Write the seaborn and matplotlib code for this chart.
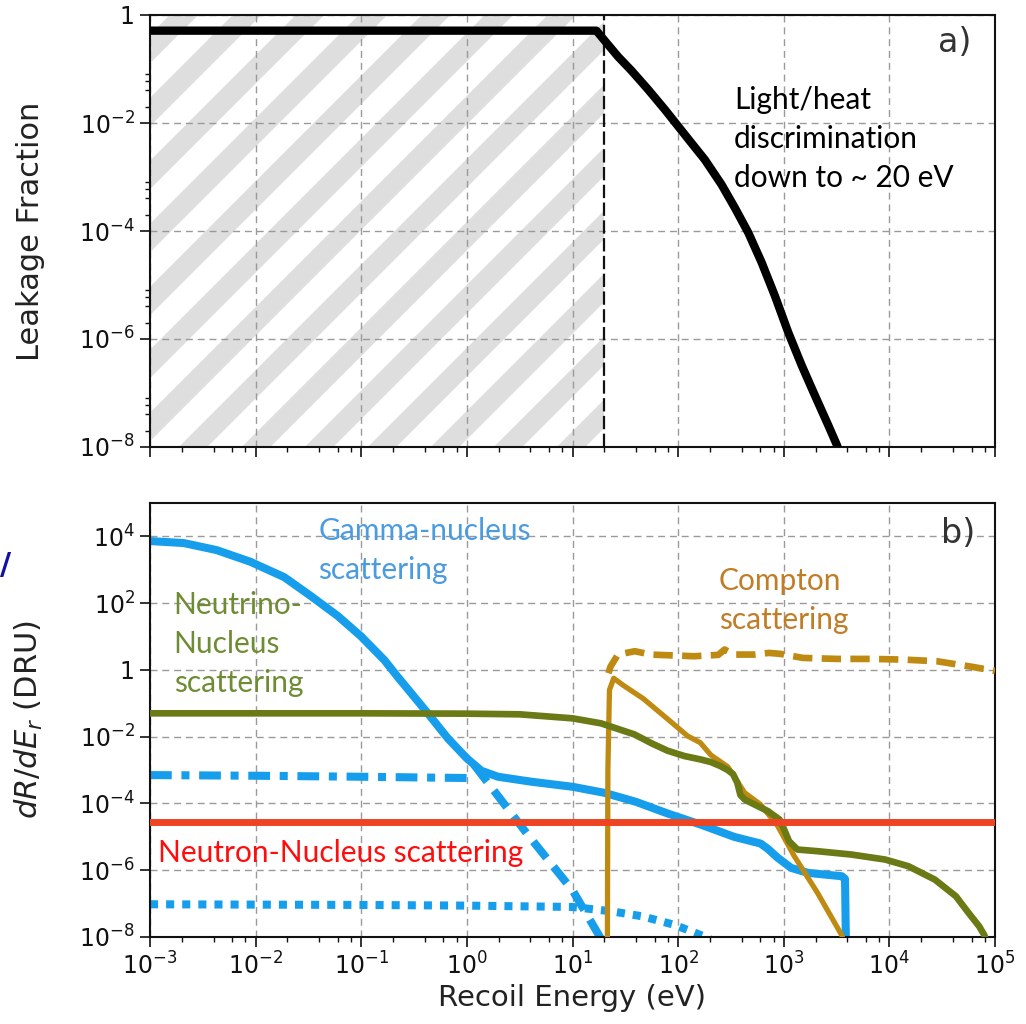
import numpy as np
import matplotlib
matplotlib.use("Agg")
import matplotlib.pyplot as plt
import matplotlib.ticker as mticker
import matplotlib.transforms as mtransforms
import seaborn as sns

# ---- panel a: leakage fraction ----
leak_logE = [-3, 1.226, 1.311, 1.431, 1.558, 1.716, 1.874, 2.0, 2.126, 2.253, 2.411,
             2.537, 2.664, 2.79, 2.916, 3.043, 3.17, 3.296, 3.422, 3.5, 3.53]
leak_logF = [-0.29, -0.29, -0.49, -0.77, -1.03, -1.38, -1.75, -2.06, -2.37, -2.68,
             -3.14, -3.57, -4.03, -4.58, -5.2, -5.88, -6.49, -7.05, -7.6, -7.95, -8.1]
threshold_eV = 20

# ---- panel b: dR/dE spectra, log10(E [eV]) and log10(rate [DRU]) ----
gamma_logE = [-3, -2.68, -2.37, -2.05, -1.73, -1.48, -1.22, -1.0, -0.78, -0.657,
              -0.37, -0.18, 0.0, 0.137, 0.295, 0.613, 1.0, 1.3, 1.6, 1.9, 2.22, 2.53,
              2.78, 2.85, 2.94, 3.07, 3.23, 3.55, 3.58, 3.59]
gamma_logR = [3.86, 3.80, 3.59, 3.24, 2.78, 2.22, 1.61, 1.0, 0.29, -0.2, -1.30,
              -2.05, -2.65, -3.02, -3.2, -3.35, -3.5, -3.68, -3.95, -4.3, -4.64, -5.0,
              -5.2, -5.36, -5.62, -5.93, -6.08, -6.18, -6.26, -8.5]

gamma_dash_logE = [0.07, 0.58, 1.0, 1.26, 1.3]
gamma_dash_logR = [-2.85, -4.95, -6.6, -8.0, -8.3]

gamma_dashdot_logE = [-3, -2, -1, 0.07]
gamma_dashdot_logR = [-3.15, -3.17, -3.2, -3.24]

gamma_dot_logE = [-3, -1, 0, 1, 1.37, 1.66, 1.97, 2.26, 2.35]
gamma_dot_logR = [-7.02, -7.04, -7.06, -7.1, -7.23, -7.38, -7.64, -8.0, -8.15]

nu_logE = [-3, -1, 0, 0.5, 1.0, 1.27, 1.585, 1.75, 1.9, 2.06, 2.21, 2.31, 2.40, 2.47,
           2.52, 2.56, 2.59, 2.63, 2.69, 2.85, 2.96, 3.0, 3.05, 3.13, 3.32, 3.64, 3.96,
           4.18, 4.43, 4.63, 4.75, 4.85, 4.9, 4.93]
nu_logR = [-1.30, -1.30, -1.31, -1.33, -1.45, -1.6, -1.93, -2.2, -2.42, -2.58, -2.68,
           -2.76, -2.88, -3.0, -3.12, -3.38, -3.75, -3.88, -3.98, -4.23, -4.48, -4.75,
           -5.13, -5.38, -5.43, -5.53, -5.68, -5.88, -6.28, -6.78, -7.28, -7.68, -7.95,
           -8.3]

compton_logE = [1.33, 1.335, 1.35, 1.39, 1.48, 1.67, 1.90, 2.09, 2.21, 2.31, 2.47,
                2.63, 2.78, 2.94, 3.10, 3.32, 3.55, 3.57]
compton_logR = [-8.5, -3.0, -0.6, -0.25, -0.46, -0.86, -1.47, -1.98, -2.18, -2.55,
                -2.9, -3.68, -4.03, -4.66, -5.58, -6.68, -7.95, -8.2]

compton_tot_logE = [1.34, 1.36, 1.43, 1.59, 1.74, 1.90, 2.15, 2.38, 2.44, 2.53, 2.72,
                    2.86, 2.97, 3.18, 3.5, 3.82, 4.13, 4.45, 4.77, 4.95, 5.0]
compton_tot_logR = [-0.1, 0.1, 0.46, 0.56, 0.46, 0.44, 0.41, 0.45, 0.61, 0.46, 0.46,
                    0.51, 0.48, 0.36, 0.33, 0.33, 0.31, 0.26, 0.10, 0.0, -0.03]

neutron_rate = 2.8e-5

C_BLUE = "#169eec"
C_OLIVE = "#6b7a15"
C_GOLD = "#bf8a12"
C_RED = "#ef4423"

sns.set_theme(style="white")
plt.rcParams["font.family"] = ["DejaVu Sans"]
plt.rcParams["mathtext.fontset"] = "dejavusans"

fig = plt.figure(figsize=(10.26, 10.24), dpi=100)
ax1 = fig.add_axes([150 / 1026, 1 - 447 / 1024, 845 / 1026, 432 / 1024])
ax2 = fig.add_axes([150 / 1026, 1 - 937 / 1024, 845 / 1026, 434 / 1024])


def ylabel_fmt(v, pos):
    k = int(round(np.log10(v)))
    return "1" if k == 0 else r"$10^{%d}$" % k


def pw(a):
    return np.power(10.0, a)


for ax in (ax1, ax2):
    ax.set_xscale("log")
    ax.set_yscale("log")
    ax.set_xlim(1e-3, 1e5)
    ax.xaxis.set_major_locator(mticker.FixedLocator(pw(np.arange(-3, 6))))
    ax.xaxis.set_minor_locator(mticker.LogLocator(base=10, subs=(2, 4, 6, 8), numticks=50))
    ax.xaxis.set_minor_formatter(mticker.NullFormatter())
    ax.yaxis.set_major_formatter(mticker.FuncFormatter(ylabel_fmt))
    ax.grid(True, which="major", color="#9a9a9a", lw=1.0, ls=(0, (5, 3.5)))
    ax.tick_params(which="major", direction="out", length=7, width=1.2,
                   labelsize=17, pad=4, left=True, bottom=True, colors="#111111")
    ax.tick_params(which="minor", direction="out", length=3.5, width=1.0,
                   left=True, bottom=True, colors="#111111")
    for s in ax.spines.values():
        s.set_linewidth(1.5)
        s.set_color("#111111")

# ---------------- panel a ----------------
ax1.set_ylim(1e-8, 1)
ax1.yaxis.set_major_locator(mticker.FixedLocator(pw(np.arange(-8, 1, 2))))
ax1.yaxis.set_minor_locator(mticker.LogLocator(base=100, subs=(2, 4, 6, 8), numticks=50))
ax1.yaxis.set_minor_formatter(mticker.NullFormatter())
ax1.tick_params(labelbottom=False)

# grey diagonal stripes below the threshold
span = ax1.axvspan(1e-3, threshold_eV, facecolor="none", edgecolor="none", zorder=0.4)
ident = mtransforms.IdentityTransform()
for c in range(6 - 63 * 18, 1100, 63):
    st, = ax1.plot([0, 1100], [c, c + 1100], transform=ident, color="#dedede",
                   lw=14.5, solid_capstyle="butt", zorder=0.5)
    st.set_clip_path(span)

ax1.axvline(threshold_eV, color="#111111", lw=1.6, ls=(0, (6, 2)), zorder=2)
sns.lineplot(x=pw(leak_logE), y=pw(leak_logF), ax=ax1, color="black", lw=6,
             estimator=None, sort=False, zorder=3)
ax1.set_xlim(1e-3, 1e5)
ax1.set_ylim(1e-8, 1)
ax1.set_ylabel("Leakage Fraction", fontsize=22, color="#222222")
ax1.yaxis.set_label_coords(-0.124, 0.5)
ax1.text(0.691, 0.835, "Light/heat\ndiscrimination\ndown to ~ 20 eV",
         transform=ax1.transAxes, ha="left", va="top", fontsize=21.5,
         family=["Lato", "DejaVu Sans"], color="black", linespacing=1.48)
ax1.text(0.933, 0.9375, "a)", transform=ax1.transAxes, ha="left", va="center",
         fontsize=24, color="#333333")

# ---------------- panel b ----------------
ax2.set_ylim(1e-8, 1e5)
ax2.yaxis.set_major_locator(mticker.FixedLocator(pw(np.arange(-8, 5, 2))))
ax2.yaxis.set_minor_locator(mticker.NullLocator())

sns.lineplot(x=pw(gamma_logE), y=pw(gamma_logR), ax=ax2, color=C_BLUE, lw=5.8,
             estimator=None, sort=False, zorder=2)
sns.lineplot(x=pw(gamma_dash_logE), y=pw(gamma_dash_logR), ax=ax2, color=C_BLUE,
             lw=5.8, ls=(0, (2.6, 1.4)), estimator=None, sort=False, zorder=2)
sns.lineplot(x=pw(gamma_dashdot_logE), y=pw(gamma_dashdot_logR), ax=ax2, color=C_BLUE,
             lw=5.8, ls=(0, (2.7, 1.2, 1.0, 1.2)), estimator=None, sort=False, zorder=2)
sns.lineplot(x=pw(gamma_dot_logE), y=pw(gamma_dot_logR), ax=ax2, color=C_BLUE,
             lw=5.8, ls=(0, (1.0, 1.0)), estimator=None, sort=False, zorder=2)
sns.lineplot(x=pw(compton_logE), y=pw(compton_logR), ax=ax2, color=C_GOLD, lw=3.8,
             estimator=None, sort=False, zorder=3)
sns.lineplot(x=pw(compton_tot_logE), y=pw(compton_tot_logR), ax=ax2, color=C_GOLD,
             lw=4.8, ls=(0, (2.9, 1.4)), estimator=None, sort=False, zorder=3)
sns.lineplot(x=pw(nu_logE), y=pw(nu_logR), ax=ax2, color=C_OLIVE, lw=4.8,
             estimator=None, sort=False, zorder=4)
ax2.axhline(neutron_rate, color=C_RED, lw=5, zorder=5)

ax2.set_xlim(1e-3, 1e5)
ax2.set_ylim(1e-8, 1e5)
ax2.set_ylabel(r"$dR/dE_r$ (DRU)", fontsize=22, color="#222222")
ax2.yaxis.set_label_coords(-0.124, 0.5)
ax2.set_xlabel("Recoil Energy (eV)", fontsize=21, color="#222222")
ax2.xaxis.set_label_coords(0.5, -0.108)

lab = dict(transform=ax2.transAxes, ha="left", va="top", fontsize=21.5,
           family=["Lato", "DejaVu Sans"], linespacing=1.48)
ax2.text(0.199, 0.967, "Gamma-nucleus\nscattering", color="#4b9be0", **lab)
ax2.text(0.028, 0.797, "Neutrino-\nNucleus\nscattering", color="#6e8c34", **lab)
ax2.text(0.0095, 0.226, "Neutron-Nucleus scattering", color="#ff0d0d", **lab)
ax2.text(0.673, 0.852, "Compton\nscattering", color="#c07d26", **lab)
ax2.text(0.936, 0.9286, "b)", transform=ax2.transAxes, ha="left", va="center",
         fontsize=24, color="#333333")

fig.text(0.0, 0.448, "/", fontsize=22, fontweight="bold", color="#1212a0",
         ha="left", va="center")

fig.savefig("out.png", dpi=100)
